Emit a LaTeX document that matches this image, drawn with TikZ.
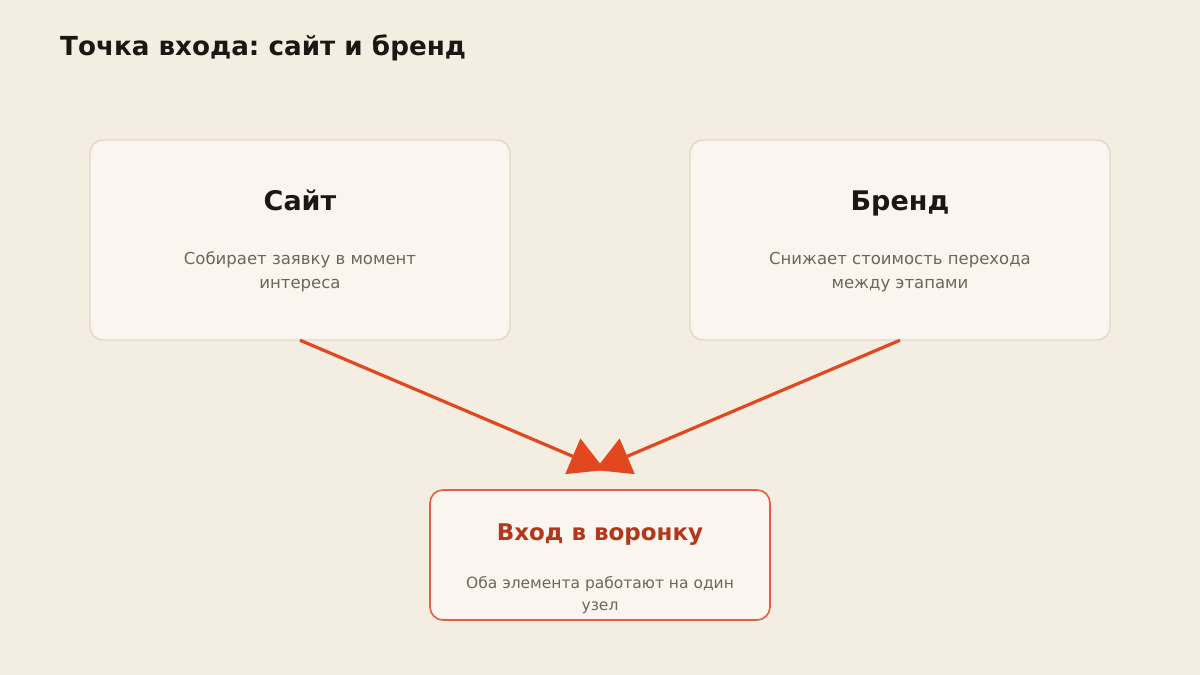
\documentclass[tikz,border=0pt]{standalone}
\usepackage{fontspec}
\setmainfont{DejaVu Sans}
\frenchspacing
\usetikzlibrary{arrows.meta}
\definecolor{bgc}{HTML}{F4EDE2}
\definecolor{cardfill}{HTML}{FAF6EF}
\definecolor{cardline}{HTML}{E3D8C8}
\definecolor{accent}{HTML}{E2471F}
\definecolor{accentline}{HTML}{E0603F}
\definecolor{darktext}{HTML}{1C1713}
\definecolor{greytext}{HTML}{6E655C}
\definecolor{redtext}{HTML}{B5361A}
\tikzset{
  card/.style={draw=cardline, line width=1.3pt, fill=cardfill, rounded corners=13pt},
  hotcard/.style={draw=accentline, line width=1.6pt, fill=cardfill, rounded corners=13pt},
  cardtitle/.style={font=\fontsize{27}{32}\selectfont\bfseries, text=darktext, anchor=base, inner sep=0},
  hottitle/.style={font=\fontsize{23}{28}\selectfont\bfseries, text=redtext, anchor=base, inner sep=0},
  carddesc/.style={font=\fontsize{16.5}{24}\selectfont, text=greytext, anchor=base, inner sep=0},
  hotdesc/.style={font=\fontsize{15.5}{22}\selectfont, text=greytext, anchor=base, inner sep=0},
  flow/.style={draw=accent, line width=3.2pt, -{Triangle[length=35pt,width=38pt]}}
}
\begin{document}
\begin{tikzpicture}[x=1pt,y=-1pt]
\fill[bgc] (0,0) rectangle (1200,675);
\useasboundingbox (0,0) rectangle (1200,675);
\node[anchor=base west, font=\fontsize{26.2}{30}\selectfont\bfseries, text=darktext, inner sep=0] (title) at (60,55) {Точка входа: сайт и бренд};
% cards
\draw[card] (90,140) rectangle (510,340);
\node[minimum width=420pt, minimum height=200pt, inner sep=0] (site) at (300,240) {};
\node[cardtitle] (siteT) at (300,210) {Сайт};
\node[carddesc] (siteD1) at (300,264) {Собирает заявку в момент};
\node[carddesc] (siteD2) at (300,288) {интереса};
\draw[card] (690,140) rectangle (1110,340);
\node[minimum width=420pt, minimum height=200pt, inner sep=0] (brand) at (900,240) {};
\node[cardtitle] (brandT) at (900,210) {Бренд};
\node[carddesc] (brandD1) at (900,264) {Снижает стоимость перехода};
\node[carddesc] (brandD2) at (900,288) {между этапами};
\draw[hotcard] (430,490) rectangle (770,620);
\node[minimum width=340pt, minimum height=130pt, inner sep=0] (funnel) at (600,555) {};
\node[hottitle] (funnelT) at (600,540) {Вход в воронку};
\node[hotdesc] (funnelD1) at (600,588) {Оба элемента работают на один};
\node[hotdesc] (funnelD2) at (600,610) {узел};
% connectors
\coordinate (tipL) at (605,470);
\coordinate (tipR) at (595,470);
\draw[flow] (site.south) -- (tipL);
\draw[flow] (brand.south) -- (tipR);
\end{tikzpicture}
\end{document}
